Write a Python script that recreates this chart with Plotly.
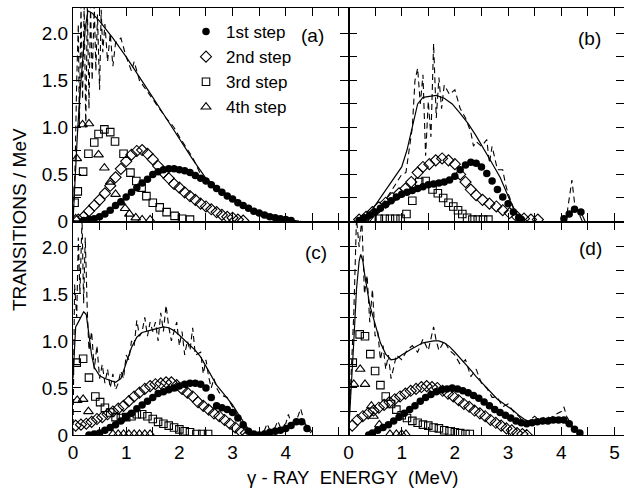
import plotly.graph_objects as go
from plotly.subplots import make_subplots

# ---------------- Panel (a) ----------------
A_SOLID_E = [0.0, 0.03, 0.08, 0.13, 0.18, 0.23, 0.28, 0.35, 0.5, 0.75, 1.0, 1.25, 1.5, 1.75, 2.0, 2.25, 2.5, 2.75, 3.0, 3.25, 3.5, 3.75, 4.0, 4.25]
A_SOLID_V = [0.0, 0.4, 0.9, 1.35, 1.75, 2.05, 2.24, 2.22, 2.13, 1.95, 1.75, 1.54, 1.32, 1.1, 0.88, 0.66, 0.46, 0.34, 0.25, 0.16, 0.1, 0.05, 0.02, 0.005]
A_DASH_E = [0.0, 0.04, 0.07, 0.1, 0.12, 0.15, 0.18, 0.21, 0.24, 0.27, 0.3, 0.33, 0.36, 0.4, 0.43, 0.46, 0.5, 0.53, 0.56, 0.6, 0.65, 0.7, 0.75, 0.8, 0.9, 1.0, 1.1, 1.15, 1.25, 1.5, 1.75, 1.9, 2.0, 2.25, 2.4, 2.5, 2.75, 3.0, 3.25, 3.5, 4.0, 4.3]
A_DASH_V = [0.0, 0.6, 1.5, 2.1, 1.0, 2.3, 1.3, 2.3, 1.0, 2.3, 1.2, 2.3, 1.5, 2.3, 1.6, 2.2, 1.4, 2.25, 1.8, 2.1, 1.7, 2.0, 1.65, 1.9, 1.95, 1.75, 1.6, 1.7, 1.5, 1.3, 1.1, 1.0, 0.9, 0.68, 0.5, 0.46, 0.33, 0.25, 0.16, 0.1, 0.02, 0.0]
A_S1_E = [0.2, 0.3, 0.4, 0.5, 0.6, 0.7, 0.8, 0.9, 1.0, 1.1, 1.2, 1.3, 1.4, 1.5, 1.6, 1.7, 1.8, 1.9, 2.0, 2.1, 2.2, 2.3, 2.4, 2.5, 2.6, 2.7, 2.8, 2.9, 3.0, 3.1, 3.2, 3.3, 3.4, 3.5, 3.6, 3.7, 3.8, 3.9, 4.0, 4.1]
A_S1_V = [0.01, 0.02, 0.03, 0.05, 0.08, 0.12, 0.17, 0.21, 0.26, 0.31, 0.36, 0.41, 0.45, 0.50, 0.53, 0.55, 0.56, 0.56, 0.55, 0.54, 0.52, 0.49, 0.46, 0.43, 0.39, 0.35, 0.31, 0.27, 0.24, 0.20, 0.17, 0.14, 0.11, 0.09, 0.07, 0.05, 0.04, 0.03, 0.02, 0.01]
A_S2_E = [0.1, 0.2, 0.3, 0.4, 0.5, 0.6, 0.7, 0.8, 0.9, 1.0, 1.1, 1.2, 1.3, 1.4, 1.5, 1.6, 1.7, 1.8, 1.9, 2.0, 2.1, 2.2, 2.3, 2.4, 2.5, 2.6, 2.7, 2.8, 2.9, 3.0, 3.1, 3.2]
A_S2_V = [0.02, 0.05, 0.11, 0.17, 0.23, 0.30, 0.38, 0.47, 0.56, 0.64, 0.71, 0.75, 0.76, 0.72, 0.66, 0.59, 0.52, 0.46, 0.40, 0.36, 0.31, 0.27, 0.23, 0.19, 0.16, 0.13, 0.10, 0.07, 0.05, 0.04, 0.02, 0.01]
A_S3_E = [0.03, 0.09, 0.19, 0.29, 0.40, 0.48, 0.59, 0.70, 0.79, 0.95, 1.08, 1.19, 1.29, 1.38, 1.50, 1.63, 1.76, 1.91, 2.05, 2.20]
A_S3_V = [0.20, 0.32, 0.53, 0.72, 0.84, 0.93, 0.98, 0.95, 0.85, 0.72, 0.52, 0.43, 0.36, 0.27, 0.20, 0.15, 0.10, 0.06, 0.03, 0.02]
A_S4_E = [0.05, 0.07, 0.18, 0.30, 0.48, 0.59, 0.70, 0.80, 0.90, 0.98, 1.06, 1.18, 1.30, 1.45]
A_S4_V = [0.03, 0.67, 1.03, 1.04, 0.71, 0.57, 0.42, 0.29, 0.20, 0.14, 0.08, 0.04, 0.02, 0.02]

# ---------------- Panel (b) ----------------
B_SOLID_E = [0.15, 0.3, 0.45, 0.6, 0.75, 0.9, 1.0, 1.1, 1.2, 1.3, 1.4, 1.5, 1.65, 1.8, 1.95, 2.1, 2.25, 2.4, 2.55, 2.7, 2.85, 3.0, 3.1, 3.2, 3.3, 4.0, 4.1, 4.2, 4.27, 4.37, 4.45]
B_SOLID_V = [0.0, 0.05, 0.13, 0.25, 0.38, 0.5, 0.58, 0.76, 1.02, 1.25, 1.32, 1.33, 1.34, 1.31, 1.25, 1.15, 1.04, 0.91, 0.77, 0.62, 0.47, 0.28, 0.14, 0.04, 0.0, 0.0, 0.04, 0.1, 0.13, 0.1, 0.0]
B_DASH_E = [0.4, 0.6, 0.8, 1.0, 1.08, 1.15, 1.2, 1.25, 1.3, 1.35, 1.4, 1.45, 1.5, 1.55, 1.6, 1.65, 1.7, 1.75, 1.8, 1.9, 2.0, 2.1, 2.2, 2.3, 2.35, 2.4, 2.5, 2.6, 2.65, 2.7, 2.8, 2.9, 2.95, 3.0, 3.1, 3.2, 3.3, 4.0, 4.1, 4.2, 4.25, 4.3, 4.4]
B_DASH_V = [0.0, 0.15, 0.32, 0.5, 0.52, 0.8, 1.0, 1.5, 1.63, 1.25, 1.56, 0.7, 1.28, 0.9, 1.89, 1.1, 1.53, 1.2, 1.45, 1.35, 1.4, 1.2, 1.1, 0.95, 0.8, 0.85, 0.8, 0.87, 0.62, 0.8, 0.55, 0.55, 0.4, 0.3, 0.15, 0.05, 0.0, 0.0, 0.05, 0.44, 0.2, 0.12, 0.0]
B_S1_E = [0.2, 0.3, 0.4, 0.5, 0.6, 0.7, 0.8, 0.9, 1.0, 1.1, 1.2, 1.3, 1.4, 1.5, 1.6, 1.7, 1.8, 1.9, 2.0, 2.1, 2.2, 2.3, 2.4, 2.5, 2.6, 2.7, 2.8, 2.9, 3.0, 3.1, 3.2, 3.25, 4.05, 4.15, 4.25, 4.37]
B_S1_V = [0.01, 0.04, 0.07, 0.10, 0.14, 0.18, 0.22, 0.26, 0.29, 0.31, 0.33, 0.35, 0.37, 0.39, 0.40, 0.41, 0.42, 0.44, 0.48, 0.55, 0.60, 0.63, 0.62, 0.58, 0.51, 0.43, 0.34, 0.26, 0.19, 0.10, 0.04, 0.02, 0.03, 0.08, 0.13, 0.10]
B_S2_E = [0.2, 0.33, 0.45, 0.57, 0.7, 0.82, 0.95, 1.07, 1.18, 1.3, 1.4, 1.52, 1.64, 1.76, 1.88, 2.0, 2.1, 2.2, 2.3, 2.4, 2.52, 2.65, 2.78, 2.9, 3.03, 3.17, 3.3, 3.43, 3.56]
B_S2_V = [0.02, 0.05, 0.1, 0.15, 0.2, 0.25, 0.3, 0.35, 0.42, 0.52, 0.58, 0.61, 0.65, 0.67, 0.65, 0.61, 0.5, 0.42, 0.34, 0.28, 0.23, 0.19, 0.16, 0.12, 0.09, 0.05, 0.03, 0.02, 0.02]
B_S3_E = [0.45, 0.57, 0.68, 0.78, 0.88, 0.98, 1.09, 1.2, 1.33, 1.45, 1.58, 1.68, 1.78, 1.88, 1.97, 2.06, 2.14, 2.23, 2.33, 2.43, 2.53, 2.63]
B_S3_V = [0.03, 0.03, 0.03, 0.03, 0.03, 0.03, 0.08, 0.22, 0.42, 0.43, 0.34, 0.3, 0.25, 0.2, 0.16, 0.12, 0.08, 0.04, 0.02, 0.02, 0.02, 0.02]

# ---------------- Panel (c) ----------------
C_SOLID_E = [0.0, 0.05, 0.1, 0.15, 0.2, 0.25, 0.3, 0.35, 0.4, 0.5, 0.6, 0.7, 0.8, 0.9, 1.0, 1.1, 1.2, 1.3, 1.5, 1.7, 1.8, 1.9, 2.0, 2.1, 2.2, 2.3, 2.4, 2.5, 2.6, 2.7, 2.8, 2.9, 3.0, 3.1, 3.2, 3.3, 3.4, 3.5, 3.6, 3.8, 4.0, 4.1, 4.2, 4.3, 4.4, 4.5]
C_SOLID_V = [0.6, 1.15, 1.2, 1.25, 1.31, 1.28, 1.05, 0.85, 0.72, 0.63, 0.6, 0.58, 0.56, 0.6, 0.76, 0.93, 1.04, 1.09, 1.12, 1.15, 1.14, 1.11, 1.06, 1.01, 0.96, 0.9, 0.83, 0.73, 0.62, 0.53, 0.46, 0.39, 0.32, 0.23, 0.14, 0.06, 0.02, 0.02, 0.03, 0.05, 0.08, 0.1, 0.13, 0.14, 0.1, 0.03]
C_DASH_E = [0.0, 0.03, 0.07, 0.1, 0.13, 0.17, 0.2, 0.23, 0.27, 0.3, 0.35, 0.4, 0.45, 0.5, 0.55, 0.6, 0.65, 0.7, 0.75, 0.8, 0.85, 0.9, 0.95, 1.0, 1.05, 1.1, 1.15, 1.2, 1.25, 1.3, 1.35, 1.4, 1.45, 1.5, 1.55, 1.6, 1.65, 1.7, 1.75, 1.8, 1.85, 1.9, 1.95, 2.0, 2.05, 2.1, 2.15, 2.2, 2.25, 2.3, 2.4, 2.45, 2.5, 2.55, 2.6, 2.65, 2.7, 2.75, 2.8, 2.9, 3.0, 3.1, 3.2, 3.3, 3.4, 3.5, 3.6, 3.65, 3.7, 3.8, 3.85, 3.9, 4.0, 4.05, 4.1, 4.2, 4.28, 4.35, 4.4, 4.5]
C_DASH_V = [0.0, 1.6, 1.25, 2.1, 1.5, 2.3, 1.4, 2.1, 1.3, 0.9, 1.1, 0.7, 0.95, 0.6, 0.75, 0.55, 0.7, 0.5, 0.65, 0.48, 0.55, 0.68, 0.6, 0.85, 0.8, 1.0, 0.95, 1.22, 1.05, 1.1, 1.25, 1.05, 1.2, 1.1, 1.2, 1.0, 1.3, 1.1, 1.38, 1.15, 1.0, 1.1, 1.2, 0.95, 1.1, 0.85, 1.0, 0.9, 1.14, 0.85, 0.88, 0.65, 0.8, 0.62, 0.5, 0.6, 0.5, 0.45, 0.42, 0.4, 0.3, 0.2, 0.1, 0.05, 0.02, 0.03, 0.05, 0.12, 0.05, 0.08, 0.15, 0.08, 0.12, 0.22, 0.13, 0.15, 0.28, 0.14, 0.08, 0.0]
C_S1_E = [0.3, 0.4, 0.5, 0.6, 0.7, 0.8, 0.9, 1.0, 1.1, 1.2, 1.3, 1.4, 1.5, 1.6, 1.7, 1.8, 1.9, 2.0, 2.1, 2.2, 2.3, 2.4, 2.5, 2.6, 2.7, 2.8, 2.9, 3.0, 3.1, 3.2, 3.3, 3.4, 3.5, 3.6, 3.7, 3.8, 3.9, 4.0, 4.1, 4.2, 4.3, 4.4]
C_S1_V = [0.0, 0.01, 0.02, 0.05, 0.08, 0.11, 0.15, 0.19, 0.23, 0.28, 0.32, 0.36, 0.40, 0.44, 0.46, 0.48, 0.50, 0.52, 0.54, 0.55, 0.55, 0.54, 0.50, 0.40, 0.31, 0.29, 0.27, 0.24, 0.18, 0.11, 0.04, 0.01, 0.0, 0.01, 0.03, 0.04, 0.05, 0.07, 0.10, 0.14, 0.14, 0.07]
C_S2_E = [0.05, 0.15, 0.25, 0.35, 0.45, 0.55, 0.65, 0.75, 0.85, 0.95, 1.05, 1.15, 1.25, 1.35, 1.45, 1.55, 1.65, 1.75, 1.85, 1.95, 2.05, 2.15, 2.25, 2.35, 2.45, 2.55, 2.65, 2.75, 2.85, 2.95, 3.05, 3.15, 3.25]
C_S2_V = [0.1, 0.11, 0.12, 0.14, 0.17, 0.19, 0.22, 0.25, 0.28, 0.31, 0.36, 0.41, 0.45, 0.49, 0.52, 0.54, 0.55, 0.56, 0.56, 0.53, 0.49, 0.45, 0.41, 0.35, 0.31, 0.27, 0.23, 0.2, 0.16, 0.12, 0.08, 0.04, 0.02]
C_S3_E = [0.07, 0.19, 0.3, 0.42, 0.51, 0.6, 0.7, 0.8, 0.9, 1.0, 1.1, 1.2, 1.3, 1.4, 1.5, 1.6, 1.7, 1.8, 1.9, 2.0, 2.1, 2.2, 2.32, 2.43, 2.54]
C_S3_V = [0.77, 0.81, 0.61, 0.41, 0.35, 0.29, 0.24, 0.19, 0.18, 0.19, 0.2, 0.22, 0.22, 0.2, 0.17, 0.14, 0.12, 0.1, 0.08, 0.06, 0.04, 0.03, 0.01, 0.01, 0.01]
C_S4_E = [0.08, 0.19, 0.29, 0.75, 0.85, 0.95, 1.05, 1.15, 1.25, 1.35, 1.45]
C_S4_V = [0.37, 0.38, 0.25, 0.01, 0.01, 0.01, 0.01, 0.01, 0.01, 0.01, 0.01]

# ---------------- Panel (d) ----------------
D_SOLID_E = [0.0, 0.05, 0.1, 0.15, 0.2, 0.23, 0.27, 0.3, 0.35, 0.4, 0.5, 0.6, 0.7, 0.8, 0.9, 1.0, 1.2, 1.4, 1.6, 1.7, 1.8, 1.9, 2.0, 2.1, 2.2, 2.3, 2.4, 2.5, 2.6, 2.7, 2.8, 2.9, 3.0, 3.1, 3.2, 3.3, 3.4, 3.5, 3.6, 3.8, 4.0, 4.1, 4.2, 4.3, 4.4]
D_SOLID_V = [0.0, 0.45, 1.0, 1.55, 1.85, 1.92, 1.85, 1.72, 1.55, 1.38, 1.18, 0.98, 0.86, 0.8, 0.81, 0.85, 0.92, 0.98, 1.0, 1.0, 0.98, 0.94, 0.88, 0.82, 0.76, 0.69, 0.62, 0.56, 0.49, 0.44, 0.38, 0.34, 0.3, 0.26, 0.21, 0.17, 0.14, 0.14, 0.15, 0.17, 0.16, 0.12, 0.08, 0.04, 0.01]
D_DASH_E = [0.0, 0.05, 0.1, 0.15, 0.2, 0.25, 0.3, 0.35, 0.4, 0.45, 0.5, 0.55, 0.6, 0.65, 0.7, 0.75, 0.8, 0.85, 0.9, 1.0, 1.1, 1.2, 1.3, 1.4, 1.5, 1.6, 1.65, 1.7, 1.8, 1.9, 2.0, 2.1, 2.2, 2.3, 2.4, 2.5, 2.6, 2.7, 2.8, 2.9, 3.0, 3.1, 3.2, 3.3, 3.4, 3.5, 3.6, 3.7, 3.8, 3.9, 4.0, 4.05, 4.1, 4.2, 4.3, 4.4]
D_DASH_V = [0.0, 0.6, 1.3, 2.3, 2.0, 2.3, 1.5, 1.7, 1.2, 1.55, 1.05, 1.1, 0.8, 0.95, 0.7, 0.85, 0.6, 0.72, 0.85, 0.8, 0.9, 0.95, 0.88, 1.02, 0.9, 1.15, 1.0, 0.9, 1.0, 0.9, 0.85, 0.75, 0.8, 0.62, 0.7, 0.55, 0.5, 0.4, 0.4, 0.3, 0.33, 0.25, 0.2, 0.13, 0.15, 0.2, 0.15, 0.2, 0.18, 0.22, 0.25, 0.3, 0.2, 0.1, 0.04, 0.0]
D_S1_E = [0.38, 0.45, 0.55, 0.65, 0.75, 0.85, 0.95, 1.05, 1.15, 1.25, 1.35, 1.45, 1.55, 1.65, 1.75, 1.85, 1.95, 2.05, 2.15, 2.25, 2.35, 2.45, 2.55, 2.65, 2.75, 2.85, 2.95, 3.05, 3.15, 3.25, 3.35, 3.45, 3.55, 3.65, 3.75, 3.85, 3.95, 4.05, 4.15, 4.25, 4.35]
D_S1_V = [0.0, 0.02, 0.05, 0.08, 0.11, 0.15, 0.19, 0.23, 0.27, 0.31, 0.36, 0.40, 0.43, 0.46, 0.48, 0.49, 0.50, 0.49, 0.47, 0.45, 0.42, 0.39, 0.35, 0.31, 0.27, 0.24, 0.21, 0.18, 0.15, 0.13, 0.12, 0.13, 0.14, 0.15, 0.15, 0.16, 0.16, 0.16, 0.12, 0.06, 0.02]
D_S2_E = [0.07, 0.17, 0.27, 0.37, 0.47, 0.57, 0.67, 0.77, 0.87, 0.97, 1.07, 1.17, 1.27, 1.37, 1.47, 1.57, 1.67, 1.77, 1.87, 1.97, 2.07, 2.17, 2.27, 2.37, 2.47, 2.57, 2.67, 2.77, 2.87, 2.97, 3.07, 3.17, 3.27, 3.35]
D_S2_V = [0.1, 0.16, 0.2, 0.23, 0.26, 0.29, 0.32, 0.35, 0.38, 0.41, 0.44, 0.47, 0.49, 0.51, 0.52, 0.51, 0.5, 0.47, 0.44, 0.41, 0.37, 0.33, 0.3, 0.26, 0.23, 0.2, 0.16, 0.13, 0.1, 0.07, 0.05, 0.02, 0.01, 0.0]
D_S3_E = [0.08, 0.21, 0.31, 0.41, 0.5, 0.6, 0.7, 0.8, 0.9, 1.0, 1.1, 1.2, 1.3, 1.4, 1.5, 1.6, 1.7, 1.8, 1.9, 2.0, 2.1, 2.2, 2.28]
D_S3_V = [0.77, 1.07, 1.05, 0.86, 0.68, 0.53, 0.41, 0.33, 0.27, 0.21, 0.18, 0.15, 0.13, 0.11, 0.1, 0.08, 0.07, 0.05, 0.04, 0.03, 0.02, 0.01, 0.01]
D_S4_E = [0.1, 0.22, 0.31, 0.43, 0.47, 0.58, 0.78, 0.9, 1.0, 1.08]
D_S4_V = [0.54, 0.7, 0.54, 0.31, 0.2, 0.11, 0.01, 0.01, 0.01, 0.01]

STEP_NAMES = ["1st step", "2nd step", "3rd step", "4th step"]
PANEL_LABELS = ["(a)", "(b)", "(c)", "(d)"]
X_TICKS = [0, 0.5, 1, 1.5, 2, 2.5, 3, 3.5, 4, 4.5, 5]
X_TEXT_LEFT = ["0", "", "1", "", "2", "", "3", "", "4", "", ""]
X_TEXT_RIGHT = ["0", "", "1", "", "2", "", "3", "", "4", "", "5"]
Y_TICKS = [0, 0.25, 0.5, 0.75, 1.0, 1.25, 1.5, 1.75, 2.0]
Y_TEXT = ["0", "", "0.5", "", "1.0", "", "1.5", "", "2.0"]

FONT = "Liberation Sans, Arial, Helvetica, sans-serif"

fig = make_subplots(rows=2, cols=2, horizontal_spacing=0, vertical_spacing=0)

panels = [
    (1, 1, A_SOLID_E, A_SOLID_V, A_DASH_E, A_DASH_V,
     [(A_S1_E, A_S1_V), (A_S2_E, A_S2_V), (A_S3_E, A_S3_V), (A_S4_E, A_S4_V)]),
    (1, 2, B_SOLID_E, B_SOLID_V, B_DASH_E, B_DASH_V,
     [(B_S1_E, B_S1_V), (B_S2_E, B_S2_V), (B_S3_E, B_S3_V), None]),
    (2, 1, C_SOLID_E, C_SOLID_V, C_DASH_E, C_DASH_V,
     [(C_S1_E, C_S1_V), (C_S2_E, C_S2_V), (C_S3_E, C_S3_V), (C_S4_E, C_S4_V)]),
    (2, 2, D_SOLID_E, D_SOLID_V, D_DASH_E, D_DASH_V,
     [(D_S1_E, D_S1_V), (D_S2_E, D_S2_V), (D_S3_E, D_S3_V), (D_S4_E, D_S4_V)]),
]

marker_styles = [
    dict(symbol="circle", size=7.5, color="black", line=dict(width=0)),
    dict(symbol="diamond-open", size=8.5, color="black", line=dict(width=1.1, color="black")),
    dict(symbol="square-open", size=7.5, color="black", line=dict(width=1.1, color="black")),
    dict(symbol="triangle-up-open", size=8.5, color="black", line=dict(width=1.1, color="black")),
]

for idx, (r, c, se, sv, de, dv, steps) in enumerate(panels):
    fig.add_trace(go.Scatter(x=de, y=dv, mode="lines", showlegend=False,
                             line=dict(color="black", width=1.1, dash="6px,4px")), row=r, col=c)
    fig.add_trace(go.Scatter(x=se, y=sv, mode="lines", showlegend=False,
                             line=dict(color="black", width=1.2)), row=r, col=c)
    for k, st in enumerate(steps):
        if st is None:
            continue
        fig.add_trace(go.Scatter(x=st[0], y=st[1], mode="markers", name=STEP_NAMES[k],
                                 showlegend=(idx == 0), marker=marker_styles[k],
                                 cliponaxis=True), row=r, col=c)

for r in (1, 2):
    for c in (1, 2):
        fig.update_xaxes(range=[0, 5.18], showline=True, linecolor="black", linewidth=1.2,
                         mirror="allticks", ticks="inside", ticklen=8, tickwidth=1.2,
                         tickcolor="black", showgrid=False, zeroline=False,
                         tickvals=X_TICKS,
                         ticktext=(X_TEXT_LEFT if c == 1 else X_TEXT_RIGHT) if r == 2 else [""] * len(X_TICKS),
                         tickfont=dict(family=FONT, size=19, color="black"),
                         row=r, col=c)
        fig.update_yaxes(range=[0, 2.27], showline=True, linecolor="black", linewidth=1.2,
                         mirror="allticks", ticks="inside", ticklen=8, tickwidth=1.2,
                         tickcolor="black", showgrid=False, zeroline=False,
                         tickvals=Y_TICKS,
                         ticktext=Y_TEXT if c == 1 else [""] * len(Y_TICKS),
                         tickfont=dict(family=FONT, size=19, color="black"),
                         row=r, col=c)

W, H, L, R, T, B = 624, 490, 73, 0, 8, 55
PW, PH = W - L - R, H - T - B

def px_to_paper(px, py):
    return (px - L) / PW, 1 - (py - T) / PH

label_pos = [(312, 36), (589, 39), (316, 252), (590, 249)]
annotations = []
for lab, (px, py) in zip(PANEL_LABELS, label_pos):
    ax_, ay_ = px_to_paper(px, py)
    annotations.append(dict(text=lab, x=ax_, y=ay_, xref="paper", yref="paper",
                            xanchor="center", yanchor="middle", showarrow=False,
                            font=dict(family=FONT, size=19, color="black")))
tx, ty = px_to_paper(19, 220)
annotations.append(dict(text="TRANSITIONS / MeV", x=tx, y=ty, xref="paper", yref="paper",
                        textangle=-90, showarrow=False, xanchor="center", yanchor="middle",
                        font=dict(family=FONT, size=19, color="black")))
bx, by = px_to_paper(352, 477)
annotations.append(dict(text="\u03b3 - RAY\u00a0 ENERGY\u00a0 (MeV)", x=bx, y=by, xref="paper", yref="paper",
                        showarrow=False, xanchor="center", yanchor="middle",
                        font=dict(family=FONT, size=18.5, color="black")))

lx, ly = px_to_paper(186, 14)
fig.update_layout(
    width=W, height=H, margin=dict(l=L, r=R, t=T, b=B, pad=0),
    paper_bgcolor="white", plot_bgcolor="white",
    annotations=annotations,
    legend=dict(x=lx, y=ly, xanchor="left", yanchor="top", bgcolor="rgba(0,0,0,0)",
                font=dict(family=FONT, size=17, color="black"), itemwidth=30,
                tracegroupgap=0),
)

fig.write_html("out.html")
